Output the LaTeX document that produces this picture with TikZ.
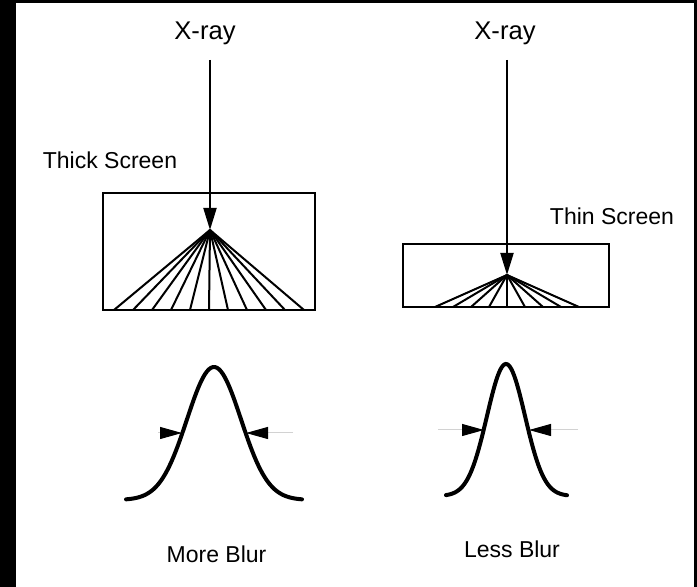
\documentclass[tikz,border=0pt]{standalone}
\usepackage{fontspec}
\setmainfont{Liberation Sans}
\usepackage{tikz}
\usetikzlibrary{arrows.meta,positioning}

\begin{document}
\begin{tikzpicture}[
  x=0.5pt, y=-0.5pt,
  lbl/.style={font=\fontsize{11.5}{14}\selectfont, anchor=base, inner sep=0pt},
  src/.style={lbl, font=\fontsize{12.8}{15}\selectfont},
  screen/.style={draw, line width=1pt, inner sep=0pt},
  ray/.style={-{Triangle[length=11pt, width=6.5pt]}, line width=1pt},
  fan/.style={line width=1pt},
  curve/.style={line width=2pt, line cap=round},
  fwhm/.style={gray!35, line width=0.5pt,
               -{Triangle[color=black, length=11pt, width=6pt]}}
]
\useasboundingbox (0,0) rectangle (697,587);
\fill[black] (0,0) rectangle (697,587);
\fill[white] (16,3) rectangle (694,587);

% Sources
\node[src] (xrayL) at (205,40) {X-ray};
\node[src] (xrayR) at (505,40) {X-ray};
\coordinate (srcL) at (210,60);
\coordinate (srcR) at (507,60);

% Screens
\node[screen, minimum width=106pt, minimum height=58.5pt] (thick) at (209,251.5) {};
\node[screen, minimum width=103pt, minimum height=31.5pt] (thin) at (506,275.5) {};
\node[lbl] (thickL) at (110,169) {Thick Screen};
\node[lbl] (thinL) at (612,225) {Thin Screen};

% Light spread in the phosphor
\coordinate (apexL) at (210,230);
\coordinate (apexR) at (507,275);
\foreach \i in {0,...,10}
  \draw[fan] (apexL) -- (114+19*\i,310);
\foreach \i in {0,...,8}
  \draw[fan] (apexR) -- (435+18*\i,307);

% Incoming rays
\draw[ray] (srcL) -- (apexL);
\draw[ray] (srcR) -- (apexR);

% Blur profiles
\draw[curve] plot[domain=-88:88, samples=90]
  ({214+\x}, {500-133*exp(-((\x)*(\x))/1458)});
\draw[curve] plot[domain=-60:61, samples=90]
  ({506+\x}, {496-132*exp(-((\x)*(\x))/722)});

% Width markers
\coordinate (wideA) at (158,433);
\coordinate (wideB) at (293,433);
\coordinate (wideA') at (182,433);
\coordinate (wideB') at (246,433);
\draw[fwhm] (wideA) -- (wideA');
\draw[fwhm] (wideB) -- (wideB');
\coordinate (narrowA) at (438,430);
\coordinate (narrowB) at (578,430);
\coordinate (narrowA') at (484,430);
\coordinate (narrowB') at (529,430);
\draw[fwhm] (narrowA) -- (narrowA');
\draw[fwhm] (narrowB) -- (narrowB');

\node[lbl] (moreL) at (216.5,563) {More Blur};
\node[lbl] (lessL) at (512,558) {Less Blur};
\end{tikzpicture}
\end{document}
